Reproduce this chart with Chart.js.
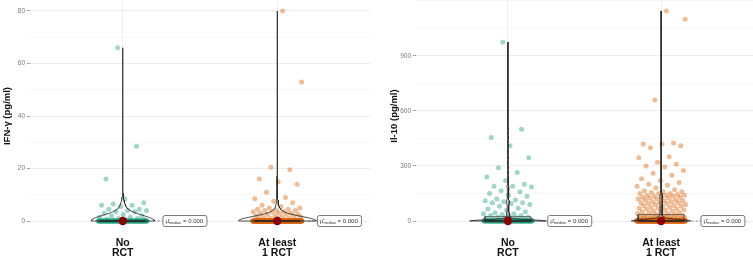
<!DOCTYPE html>
<html>
<head>
<meta charset="utf-8">
<script src="https://cdn.jsdelivr.net/npm/chart.js@4/dist/chart.umd.min.js"></script>
<style>
  html, body { margin: 0; padding: 0; background: #fff; }
  #wrap { position: relative; width: 753px; height: 259px; }
  .panel { position: absolute; top: 0; height: 259px; }
</style>
</head>
<body>
<div id="wrap">
  <div class="panel" style="left:0;width:370px"><canvas id="ifnChart"></canvas></div>
  <div class="panel" style="left:373px;width:380px"><canvas id="il10Chart"></canvas></div>
</div>
<script>
// Groups
const groupLabels = [['No', 'RCT'], ['At least', '1 RCT']];
const groupColors = ['rgba(27,158,119,0.42)', 'rgba(217,95,2,0.42)'];

// IFN-γ (pg/ml): readings above zero, plus how many readings sit at zero
const ifnNoRct = [66, 28.5, 16, 8.5, 7, 6.5, 6, 6, 5.5, 4.5, 4.5, 4, 4, 3.5, 3.5, 3, 2.5, 2, 2,
  1.5, 1.5, 1, 1, 0.8, 0.5, 0.5, 0.3];
const ifnNoRctZeros = 123;
const ifnAtLeast1 = [80, 53, 20.5, 19.5, 16, 15, 14, 11, 9, 8.5, 7.5, 7, 6, 5.5, 5, 5, 4.5, 4.5,
  4, 4, 4, 3.5, 3.5, 3.5, 3, 3, 3, 2.5, 2.5, 2.5, 2, 2, 2, 1.5, 1.5, 1.5, 1, 1, 1, 1, 0.5, 0.5, 0.5];
const ifnAtLeast1Zeros = 274;
const ifnTicks = [0, 20, 40, 60, 80];

// Il-10 (pg/ml)
const il10NoRct = [975, 500, 455, 410, 345, 290, 265, 240, 220, 200, 190, 190, 185, 165, 160, 150,
  140, 135, 120, 115, 110, 105, 100, 100, 95, 90, 80, 70, 65, 60, 50, 45, 40, 40, 35, 30, 30, 25,
  20, 20, 18, 15, 15, 12, 10, 10, 8, 6, 5, 5, 4, 3, 2, 2, 1];
const il10NoRctZeros = 95;
const il10AtLeast1 = [1145, 1100, 660, 425, 420, 420, 410, 400, 350, 345, 320, 310, 300, 295, 275,
  260, 250, 230, 220, 210, 200, 195, 190, 180, 170, 165, 160, 160, 155, 150, 150, 150, 145, 140,
  140, 140, 135, 135, 130, 130, 130, 125, 125, 120, 120, 115, 115, 110, 110, 105, 105, 100, 100,
  100, 95, 95, 90, 90, 85, 85, 80, 80, 75, 75, 70, 70, 65, 65, 60, 60, 55, 55, 50, 50, 45, 45,
  40, 40, 35, 35, 30, 30,
  28, 27, 26, 25, 24, 22, 22, 20, 20, 19, 18, 17, 16, 15, 15, 14, 12, 12, 11, 10, 10, 9, 8, 8,
  7, 6, 5, 5, 4, 3, 3, 2, 2, 1, 1];
const il10AtLeast1Zeros = 200;
const il10Ticks = [0, 300, 600, 900];

Chart.defaults.font.family = '"Liberation Sans", Arial, sans-serif';

function withZeros(vals, n) {
  return Array(n).fill(0).concat(vals);
}

function quantile(sorted, p) {
  const h = (sorted.length - 1) * p;
  const lo = Math.floor(h);
  const next = lo + 1 < sorted.length ? sorted[lo + 1] : sorted[lo];
  return sorted[lo] + (h - lo) * (next - sorted[lo]);
}

// R's bw.nrd0
function bwNrd0(sorted) {
  const n = sorted.length;
  const mean = sorted.reduce((a, b) => a + b, 0) / n;
  const sd = Math.sqrt(sorted.reduce((a, b) => a + (b - mean) ** 2, 0) / (n - 1));
  let lo = Math.min(sd, (quantile(sorted, 0.75) - quantile(sorted, 0.25)) / 1.34);
  if (!lo) lo = sd || Math.abs(sorted[0]) || 1;
  return 0.9 * lo * Math.pow(n, -0.2);
}

// gaussian kernel density, trimmed to the data range
function kde(sorted, steps) {
  const bw = bwNrd0(sorted);
  const lo = sorted[0], hi = sorted[sorted.length - 1];
  const out = [];
  for (let k = 0; k <= steps; k++) {
    const y = lo + (hi - lo) * k / steps;
    let s = 0;
    for (const v of sorted) {
      const u = (y - v) / bw;
      s += Math.exp(-0.5 * u * u);
    }
    out.push({ y: y, d: s / (sorted.length * bw * Math.sqrt(2 * Math.PI)) });
  }
  return out;
}

function buildPanel(canvasId, groups, majorTicks, yTitle, titlePad, axisWidth) {
  const sorted = groups.map(g => g.slice().sort((a, b) => a - b));
  const dens = sorted.map(s => kde(s, 400));
  const maxD = Math.max(...dens.flat().map(p => p.d));
  const all = sorted.flat();
  const dMin = Math.min(...all), dMax = Math.max(...all);
  const pad = (dMax - dMin) * 0.05;
  const medians = sorted.map(s => quantile(s, 0.5));

  const step = (majorTicks[1] - majorTicks[0]) / 2;
  const gridVals = [];
  for (let v = Math.ceil((dMin - pad) / step) * step; v <= dMax + pad; v += step) gridVals.push(v);
  const isMajor = v => majorTicks.includes(v);

  const datasets = [];
  // centrality (median) points on top
  datasets.push({
    data: medians.map((m, i) => ({ x: i + 1, y: m })),
    pointRadius: 4.2, backgroundColor: '#8B0000', borderWidth: 0
  });
  // violins
  sorted.forEach((s, i) => {
    const cx = i + 1;
    const left = dens[i].map(p => ({ x: cx - p.d / maxD * 0.25, y: p.y }));
    const right = dens[i].map(p => ({ x: cx + p.d / maxD * 0.25, y: p.y })).reverse();
    datasets.push({
      data: left.concat(right, [left[0]]),
      showLine: true, pointRadius: 0, borderColor: '#222', borderWidth: 0.8, fill: false
    });
  });
  // boxplots
  sorted.forEach((s, i) => {
    const cx = i + 1;
    const q1 = quantile(s, 0.25), q3 = quantile(s, 0.75), med = medians[i];
    const iqr = q3 - q1;
    const hiW = Math.max(...s.filter(v => v <= q3 + 1.5 * iqr));
    const loW = Math.min(...s.filter(v => v >= q1 - 1.5 * iqr));
    const seg = (pts, w) => ({
      data: pts, showLine: true, pointRadius: 0, borderColor: '#333', borderWidth: w || 0.7
    });
    datasets.push(seg([{ x: cx - 0.15, y: q1 }, { x: cx + 0.15, y: q1 }, { x: cx + 0.15, y: q3 },
      { x: cx - 0.15, y: q3 }, { x: cx - 0.15, y: q1 }]));
    datasets.push(seg([{ x: cx - 0.15, y: med }, { x: cx + 0.15, y: med }], 1.6));
    datasets.push(seg([{ x: cx, y: q3 }, { x: cx, y: hiW }]));
    datasets.push(seg([{ x: cx, y: q1 }, { x: cx, y: loW }]));
  });
  // jittered raw points (deterministic spread)
  sorted.forEach((s, i) => {
    datasets.push({
      data: s.map((v, k) => ({ x: i + 1 + (((k * 0.6180339887 + 0.31) % 1) - 0.5) * 0.32, y: v })),
      pointRadius: 2.5, backgroundColor: groupColors[i], borderWidth: 0
    });
  });

  const labelPlugin = {
    id: 'medianLabel',
    afterDatasetsDraw(chart) {
      const { ctx, scales: { x, y } } = chart;
      medians.forEach((m, i) => {
        const cx = i + 1;
        const py = y.getPixelForValue(m);
        const bx = x.getPixelForValue(cx + 0.26);
        const bh = 11, bw = 44;
        ctx.save();
        ctx.strokeStyle = '#555';
        ctx.lineWidth = 0.7;
        ctx.setLineDash([2, 2]);
        ctx.beginPath();
        ctx.moveTo(x.getPixelForValue(cx + 0.2), py);
        ctx.lineTo(bx, py);
        ctx.stroke();
        ctx.setLineDash([]);

        ctx.fillStyle = '#fff';
        ctx.strokeStyle = '#555';
        ctx.lineWidth = 0.8;
        ctx.beginPath();
        ctx.roundRect(bx, py - bh / 2, bw, bh, 2);
        ctx.fill();
        ctx.stroke();

        ctx.fillStyle = '#333';
        ctx.textBaseline = 'middle';
        ctx.textAlign = 'left';
        let tx = bx + 2.5;
        ctx.font = '6px "Liberation Sans", Arial, sans-serif';
        ctx.fillText('μ\u0302', tx, py + 0.5);
        tx += ctx.measureText('μ').width;
        ctx.font = '3.8px "Liberation Sans", Arial, sans-serif';
        ctx.fillText('median', tx, py + 2);
        tx += ctx.measureText('median').width;
        ctx.font = '6px "Liberation Sans", Arial, sans-serif';
        ctx.fillText(' = ' + m.toFixed(3), tx, py + 0.5);
        ctx.restore();
      });
    }
  };

  return new Chart(document.getElementById(canvasId), {
    type: 'scatter',
    data: { datasets: datasets },
    plugins: [labelPlugin],
    options: {
      responsive: true,
      maintainAspectRatio: false,
      animation: false,
      events: [],
      layout: { autoPadding: false, padding: { top: 0.5, right: 0, bottom: 0, left: 0 } },
      plugins: { legend: { display: false }, tooltip: { enabled: false } },
      scales: {
        x: {
          type: 'linear', min: 0.4, max: 2.6,
          afterBuildTicks: s => { s.ticks = [{ value: 1 }, { value: 2 }]; },
          afterFit: s => { s.height = 27.5; s.paddingLeft = 0; s.paddingRight = 0; },
          ticks: {
            callback: v => groupLabels[Math.round(v) - 1],
            font: { size: 10.5, weight: 'bold', lineHeight: 0.95 },
            color: '#111', padding: 7, autoSkip: false, maxRotation: 0
          },
          grid: { color: '#EBEBEB', drawTicks: false, lineWidth: 0.8 },
          border: { display: false }
        },
        y: {
          min: dMin - pad, max: dMax + pad,
          afterBuildTicks: s => { s.ticks = gridVals.map(v => ({ value: v })); },
          afterFit: s => { s.width = axisWidth; s.paddingTop = 0; s.paddingBottom = 0; },
          ticks: {
            callback: v => isMajor(v) ? String(v) : '',
            font: { size: 6.5 }, color: '#7a7a7a', padding: 2, autoSkip: false
          },
          grid: {
            color: c => isMajor(c.tick.value) ? '#E8E8E8' : '#F4F4F4',
            tickColor: c => isMajor(c.tick.value) ? '#8a8a8a' : 'rgba(0,0,0,0)',
            tickLength: 3, lineWidth: 0.8
          },
          border: { display: false },
          title: {
            display: true, text: yTitle, color: '#111',
            font: { size: 9.5, weight: 'bold' }, padding: { top: titlePad, bottom: 0 }
          }
        }
      }
    }
  });
}

buildPanel('ifnChart',
  [withZeros(ifnNoRct, ifnNoRctZeros), withZeros(ifnAtLeast1, ifnAtLeast1Zeros)],
  ifnTicks, 'IFN-γ (pg/ml)', 2, 30);

buildPanel('il10Chart',
  [withZeros(il10NoRct, il10NoRctZeros), withZeros(il10AtLeast1, il10AtLeast1Zeros)],
  il10Ticks, 'Il-10 (pg/ml)', 16, 43);
</script>
</body>
</html>
